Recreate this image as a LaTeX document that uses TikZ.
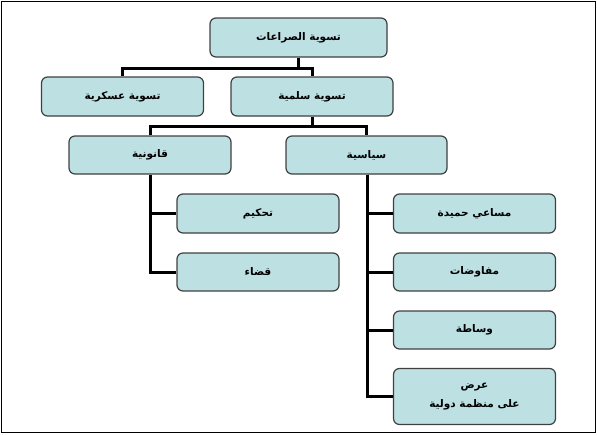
\documentclass[tikz,border=0pt]{standalone}
\usepackage{fontspec}
\newfontfamily\arabicfont[Script=Arabic]{DejaVu Sans}
\TeXXeTstate=1
\definecolor{boxfill}{HTML}{BDE0E3}
\definecolor{boxline}{HTML}{404040}
\tikzset{
  orgbox/.style={draw=boxline, line width=1.2pt, fill=boxfill, rounded corners=6pt,
    inner sep=0pt, font=\arabicfont\bfseries\fontsize{10.5}{19}\selectfont, align=center},
  link/.style={line width=3pt, black}
}
\newcommand{\ar}[1]{\beginR #1\endR}
\begin{document}
\begin{tikzpicture}[x=1pt,y=-1pt]
\useasboundingbox (0,0) rectangle (597,434);
\draw[black, line width=1pt] (1.5,1.5) rectangle (595.5,432.5);
% nodes: centre x, centre y, width, height
\node[orgbox, minimum width=177pt, minimum height=39pt] (root) at (298.5,37.5) {\ar{تسوية الصراعات}};
\node[orgbox, minimum width=162pt, minimum height=39pt] (mil) at (122.5,96.5) {\ar{تسوية عسكرية}};
\node[orgbox, minimum width=162pt, minimum height=39pt] (peace) at (312,96.5) {\ar{تسوية سلمية}};
\node[orgbox, minimum width=162pt, minimum height=38pt] (legal) at (150,155) {\ar{قانونية}};
\node[orgbox, minimum width=161pt, minimum height=38pt] (pol) at (366.5,155) {\ar{سياسية}};
\node[orgbox, minimum width=162pt, minimum height=39pt] (arb) at (258,213.5) {\ar{تحكيم}};
\node[orgbox, minimum width=162pt, minimum height=38pt] (court) at (258,272) {\ar{قضاء}};
\node[orgbox, minimum width=162pt, minimum height=39pt] (good) at (474.5,213.5) {\ar{مساعي حميدة}};
\node[orgbox, minimum width=162pt, minimum height=38pt] (neg) at (474.5,272) {\ar{مفاوضات}};
\node[orgbox, minimum width=162pt, minimum height=38pt] (med) at (474.5,330) {\ar{وساطة}};
\node[orgbox, minimum width=162pt, minimum height=56pt] (org) at (474.5,396.5) {\ar{عرض}\\\ar{على منظمة دولية}};
% connectors
\coordinate (j1) at (298.5,68);
\coordinate (j2) at (312,126);
\draw[link] (root.south) -- (j1);
\draw[link] (mil.north) |- (j1) -| (peace.north);
\draw[link] (peace.south) -- (j2);
\draw[link] (legal.north) |- (j2) -| (pol.north);
\draw[link] (legal.south) |- (arb.west);
\draw[link] (legal.south) |- (court.west);
\draw[link] ([xshift=1pt]pol.south) |- (good.west);
\draw[link] ([xshift=1pt]pol.south) |- (neg.west);
\draw[link] ([xshift=1pt]pol.south) |- (med.west);
\draw[link] ([xshift=1pt]pol.south) |- (org.west);
\end{tikzpicture}
\end{document}
